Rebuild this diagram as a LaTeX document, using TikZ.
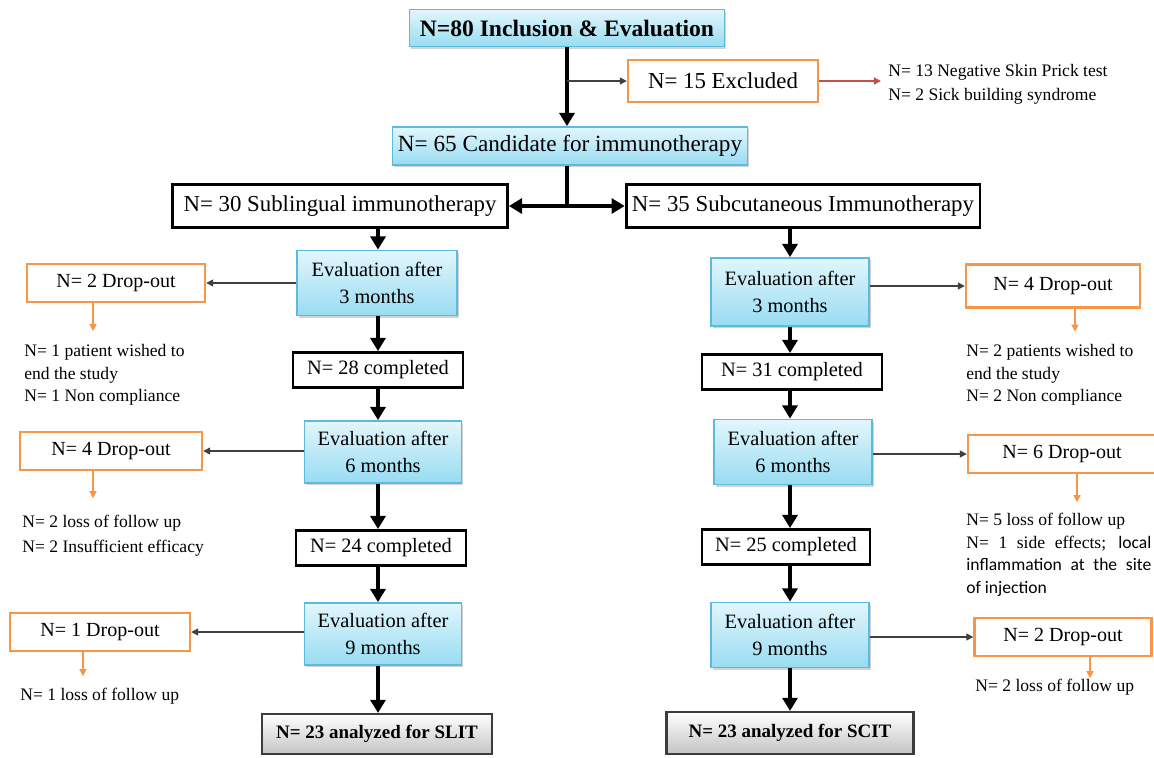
\documentclass[tikz,border=0pt]{standalone}
\usepackage{fontspec}
\setmainfont{Liberation Serif}
\newfontfamily\notesans{Carlito}
\usetikzlibrary{arrows.meta,shadows}

\definecolor{evaltop}{HTML}{E2F6FC}
\definecolor{evalbot}{HTML}{98DCF2}
\definecolor{evalline}{HTML}{5EBADC}
\definecolor{dropline}{HTML}{F79646}
\definecolor{exclred}{HTML}{C0504D}
\definecolor{fingray}{HTML}{C4C4C4}
\definecolor{finline}{HTML}{3C3C3C}

\tikzset{
  evalbox/.style={draw=evalline, line width=1pt, top color=evaltop, bottom color=evalbot,
    drop shadow={shadow xshift=1pt, shadow yshift=-1.2pt, opacity=0.35},
    minimum width=3.14cm, minimum height=1.24cm, align=center, inner sep=1pt,
    font=\fontsize{11.6}{15.5}\selectfont},
  headbox/.style={evalbox, minimum height=0.74cm, font=\fontsize{13.2}{15}\selectfont},
  blackbox/.style={draw, line width=1.6pt, fill=white, minimum height=0.7cm,
    font=\fontsize{11.6}{14}\selectfont},
  dropbox/.style={draw=dropline, line width=1.4pt, fill=white, minimum width=3.56cm,
    minimum height=0.76cm, font=\fontsize{11.4}{14}\selectfont},
  finalbox/.style={draw=finline, line width=1.2pt, top color=white, bottom color=fingray,
    minimum height=0.8cm, font=\bfseries\fontsize{10.8}{13}\selectfont},
  note/.style={align=left, inner sep=0pt, anchor=north west, font=\fontsize{10}{12.8}\selectfont},
  bigarrow/.style={line width=2.2pt, -{Triangle[width=8.5pt,length=7.5pt]}},
  thinarrow/.style={line width=0.8pt, draw=black!75, -{Triangle[width=4pt,length=4pt]}},
  droparrow/.style={draw=dropline, line width=0.7pt, -{Triangle[width=4pt,length=4pt]}},
}

\begin{document}
\begin{tikzpicture}[x=0.02cm, y=-0.02cm]
  \useasboundingbox (0,0) rectangle (1154,758);

  % top part
  \node[headbox, minimum width=6.3cm, font=\bfseries\fontsize{13.4}{15}\selectfont] (incl) at (567,28) {N=80 Inclusion \& Evaluation};
  \node[dropbox, minimum width=3.8cm, minimum height=0.84cm, font=\fontsize{13}{15}\selectfont] (excl) at (723,81) {N= 15 Excluded};
  \node[note, font=\fontsize{10}{13.6}\selectfont] (exclnote) at (888,64) {N= 13 Negative Skin Prick test\\N= 2 Sick building syndrome};
  \node[headbox, minimum width=7.1cm, minimum height=0.76cm] (cand) at (570,146) {N= 65 Candidate for immunotherapy};

  \node[blackbox, minimum width=6.7cm, minimum height=0.86cm, font=\fontsize{13}{15}\selectfont] (slit) at (340,206) {N= 30 Sublingual immunotherapy};
  \node[blackbox, minimum width=7.0cm, minimum height=0.86cm, font=\fontsize{13}{15}\selectfont] (scit) at (803,206) {N= 35 Subcutaneous Immunotherapy};

  % columns
  \coordinate (colL) at (378,0);
  \coordinate (colR) at (790,0);

  % sublingual side
  \node[evalbox, minimum width=3.2cm, minimum height=1.3cm] (evL3) at (377,283) {Evaluation after\\3 months};
  \node[blackbox, minimum width=3.4cm] (comp28) at (378,370) {N= 28 completed};
  \node[evalbox] (evL6) at (383,452) {Evaluation after\\6 months};
  \node[blackbox, minimum width=3.4cm] (comp24) at (381,548) {N= 24 completed};
  \node[evalbox] (evL9) at (383,634) {Evaluation after\\9 months};
  \node[finalbox, minimum width=4.6cm] (finL) at (377,734) {N= 23 analyzed for SLIT};

  \node[dropbox] (dropL1) at (116,283) {N= 2 Drop-out};
  \node[dropbox, minimum width=3.64cm] (dropL2) at (111,451) {N= 4 Drop-out};
  \node[dropbox, minimum width=3.6cm] (dropL3) at (100,632) {N= 1 Drop-out};
  \node[note] (noteL1) at (24,344) {N= 1 patient wished to\\end the study\\N= 1 Non compliance};
  \node[note, font=\fontsize{10}{14}\selectfont] (noteL2) at (22,515) {N= 2 loss of follow up\\N= 2 Insufficient efficacy};
  \node[note] (noteL3) at (20,688) {N= 1 loss of follow up};

  % subcutaneous side
  \node[evalbox, minimum width=3.16cm, minimum height=1.36cm] (evR3) at (790,292) {Evaluation after\\3 months};
  \node[blackbox, minimum width=3.6cm] (comp31) at (792,372) {N= 31 completed};
  \node[evalbox, minimum width=3.16cm, minimum height=1.3cm] (evR6) at (793,452) {Evaluation after\\6 months};
  \node[blackbox, minimum width=3.36cm] (comp25) at (786,547) {N= 25 completed};
  \node[evalbox, minimum width=3.16cm, minimum height=1.3cm] (evR9) at (790,635) {Evaluation after\\9 months};
  \node[finalbox, minimum width=4.94cm, minimum height=0.84cm] (finR) at (790,733) {N= 23 analyzed for SCIT};

  \node[dropbox, minimum width=3.48cm, minimum height=0.86cm] (dropR1) at (1053,286) {N= 4 Drop-out};
  \node[dropbox, minimum width=3.76cm] (dropR2) at (1062,454) {N= 6 Drop-out};
  \node[dropbox, minimum width=3.54cm] (dropR3) at (1063,637) {N= 2 Drop-out};
  \node[note] (noteR1) at (966,344) {N= 2 patients wished to\\end the study\\N= 2 Non compliance};
  \node[note, text width=3.7cm, align=justify] (noteR2) at (966,513)
    {N= 5 loss of follow up\\N= 1 side effects; {\notesans local}\linebreak{\notesans inflammation at the site}\linebreak{\notesans of injection}};
  \node[note] (noteR3) at (975,679) {N= 2 loss of follow up};

  % connectors
  \draw[bigarrow] (incl.south) -- (incl.south |- cand.north);
  \draw[thinarrow] (incl.south |- excl.west) -- (excl.west);
  \draw[thinarrow, draw=exclred] (excl.east) -- ([xshift=-4]excl.east -| exclnote.west);
  \draw[line width=2.2pt] (cand.south -| incl.south) -- (incl.south |- slit.east);
  \draw[bigarrow] (incl.south |- slit.east) -- (slit.east);
  \draw[bigarrow] (incl.south |- scit.west) -- (scit.west);

  \foreach \from/\to in {slit/evL3, evL3/comp28, comp28/evL6, evL6/comp24, comp24/evL9, evL9/finL}
    \draw[bigarrow] (\from.south -| colL) -- (\to.north -| colL);
  \foreach \from/\to in {scit/evR3, evR3/comp31, comp31/evR6, evR6/comp25, comp25/evR9, evR9/finR}
    \draw[bigarrow] (\from.south -| colR) -- (\to.north -| colR);

  \foreach \e/\d in {evL3/dropL1, evL6/dropL2, evL9/dropL3}
    \draw[thinarrow] (\e.west |- \d.east) -- (\d.east);
  \foreach \e/\d in {evR3/dropR1, evR6/dropR2, evR9/dropR3}
    \draw[thinarrow] (\e.east |- \d.west) -- (\d.west);

  \foreach \d/\dx/\len in {dropL1/-23/28, dropL2/-18/27, dropL3/-17/24, dropR1/22/23, dropR2/15/28, dropR3/27/21}
    \draw[droparrow] ([xshift=\dx*0.02cm]\d.south) -- ++(0,\len);

\end{tikzpicture}
\end{document}
